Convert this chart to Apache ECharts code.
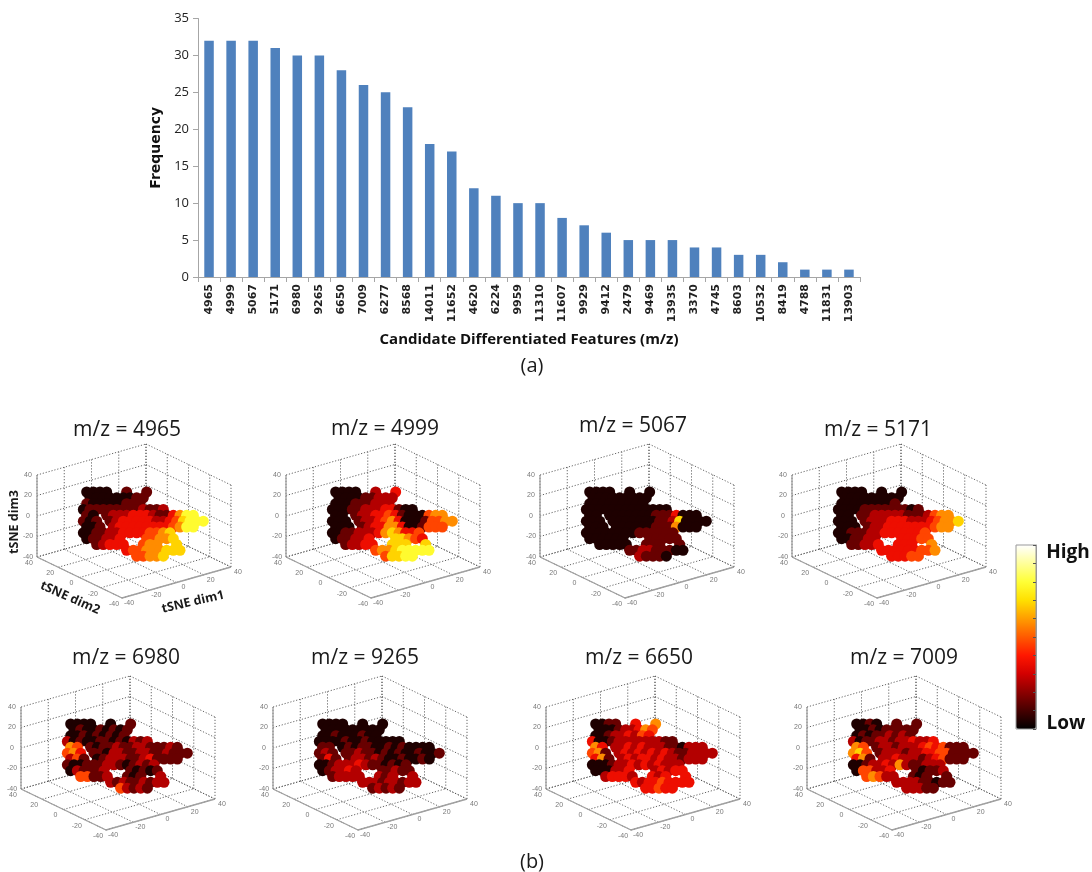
<!DOCTYPE html>
<html>
<head>
<meta charset="utf-8">
<style>html,body{margin:0;padding:0;background:#fff}#c{width:1092px;height:872px}</style>
<script src="https://cdn.jsdelivr.net/npm/echarts@6/dist/echarts.min.js"></script>
</head>
<body>
<div id="c"></div>
<script>
// ---- bar chart values
const features = ['4965','4999','5067','5171','6980','9265','6650','7009','6277','8568','14011','11652','4620','6224','9959','11310','11607','9929','9412','2479','9469','13935','3370','4745','8603','10532','8419','4788','11831','13903'];
const frequency = [32,32,32,31,30,30,28,26,25,23,18,17,12,11,10,10,8,7,6,5,5,5,4,4,3,3,2,1,1,1];

// ---- tSNE axis ticks
const tsneTicks = [-40,-20,0,20,40];

// ---- projected tSNE intensity (0-9), one string per image row, '.' = no sample
const blob4965 = [
".0000..1..1.........",
".000000011..........",
".100000111..........",
"0111111112112.......",
".10.12223332113577..",
"101.123333322346777.",
".001.2333333334577..",
"00112233334456......",
".011223...44556.....",
"..12333..455..6.....",
".......344555666....",
"........44556......."];
const blob4999 = [
".0000..2..3.........",
".000011222..........",
".000111222..........",
"0001122233100.......",
".00.12233431000455..",
"000.122345300014455.",
".000.1233553001444..",
"00112223565334......",
".011223...66543.....",
"..12233..666..6.....",
".......455677777....",
"........46677......."];
const blob5067 = [
".0000..0..0.........",
".000000000..........",
".000000000..........",
"0000000000000.......",
".00.00000001113000..",
"000.000000011260000.",
".000.0000001115000..",
"00000000111111......",
".000000...11111.....",
"..00000..111..1.....",
".......112211100....",
"........21110......."];
const blob5171 = [
".0000..0..0.........",
".000000000..........",
".000000001..........",
"0000111111101.......",
".00.11222221112455..",
"000.122233322234556.",
".000.1223333333455..",
"00111223333334......",
".001122...33344.....",
"..11223..333..5.....",
".......333333445....",
"........33344......."];
const blob6980 = [
".0000..0..1.........",
".010010101..........",
".001010101..........",
"2010011010212.......",
".54.10112112211121..",
"453.110221122112111.",
".241.0122211231111..",
"10011122101212......",
".021112...10101.....",
"..44112..101..2.....",
".......212112122....",
"........42121......."];
const blob9265 = [
".0000..0..0.........",
".000000000..........",
".001000100..........",
"0000100100000.......",
".11.01011001010000..",
"121.112110101001001.",
".131.1221210010010..",
"00122232110101......",
".012232...11211.....",
"..12222..212..2.....",
".......222122122....",
"........12121......."];
const blob6650 = [
".0011..3..5.........",
".000122354..........",
".001223243..........",
"3001222222211.......",
".53.22323222110222..",
"451.232323232112222.",
".351.2323323221222..",
"00012232323222......",
".000223...23233.....",
"..23332..323..3.....",
".......323343333....",
"........33433......."];
const blob7009 = [
".0010..1..1.........",
".001011111..........",
".010112121..........",
"2011221223223.......",
".54.12212223434111..",
"564.122212233441111.",
".351.2232221234111..",
"00122325211222......",
".044223...10112.....",
"..45422..101..1.....",
".......222211011....",
"........22211......."];

const panelNames = ['4965','4999','5067','5171','6980','9265','6650','7009'];
const panelBlobs = [blob4965,blob4999,blob5067,blob5171,blob6980,blob9265,blob6650,blob7009];

// ---- layout only
const panelLeft = [37,286,540,792,21,273,546,807];
const panelTop  = [475,475,475,475,707,707,707,707];
const titleCx   = [127,385,633,878,126,365,639,904];
const titleCy   = [430,429,426,430,658,658,658,658];
const hotStops = ['#000000','#460000','#8c0000','#d20000','#ff1700','#ff5a00','#ff9d00','#ffe000','#ffff36','#ffff9a','#ffffff'];

// axonometric projection of the MATLAB-style 3-D box, in panel pixels
function proj(d1,d2,d3){
  const a=(d1+40)/80,b=(d2+40)/80,c=(d3+40)/80;
  return [85+109*a-85*b, 152-31*a-41*b-82*c];
}
function seg(list,p,q){ list.push(p,q,[NaN,NaN]); }

const grids=[{left:198,top:18.5,width:662,height:258.5}];
const xAxes=[{gridIndex:0,type:'category',data:features,
  axisLine:{lineStyle:{color:'#a6a6a6'}},axisTick:{show:true,length:5,lineStyle:{color:'#a6a6a6'}},
  axisLabel:{rotate:90,interval:0,fontFamily:'DejaVu Sans',fontWeight:'bold',fontSize:11,color:'#222',margin:7},
  name:'Candidate Differentiated Features (m/z)',nameLocation:'middle',nameGap:55,
  nameTextStyle:{fontFamily:'Open Sans',fontWeight:'bold',fontSize:15,color:'#111'}}];
const yAxes=[{gridIndex:0,type:'value',min:0,max:35,interval:5,splitLine:{show:false},
  axisLine:{show:true,lineStyle:{color:'#a6a6a6'}},axisTick:{show:true,length:5,lineStyle:{color:'#a6a6a6'}},
  axisLabel:{fontFamily:'Open Sans',fontSize:13,color:'#222',margin:9},
  name:'Frequency',nameLocation:'middle',nameGap:27,
  nameTextStyle:{fontFamily:'DejaVu Sans',fontWeight:'bold',fontSize:14,color:'#111'}}];
const series=[{type:'bar',xAxisIndex:0,yAxisIndex:0,data:frequency,barWidth:9.5,itemStyle:{color:'#4f81bd'},silent:true}];
const blobSeries=[];
const graphics=[];

function txt(x,y,t,size,opt){
  graphics.push(Object.assign({type:'text',x:x,y:y,silent:true,z:50,
    style:Object.assign({text:t,fontSize:size,fontFamily:'Open Sans',fill:'#1a1a1a',align:'center',verticalAlign:'middle'},opt&&opt.style||{})},
    opt&&opt.el||{}));
}

panelNames.forEach((name,i)=>{
  const g=i+1;
  grids.push({left:panelLeft[i],top:panelTop[i]-29,width:194,height:153});
  xAxes.push({gridIndex:g,type:'value',min:0,max:194,show:false});
  yAxes.push({gridIndex:g,type:'value',min:0,max:153,inverse:true,show:false});
  const dotted=[],solid=[],labels=[];
  tsneTicks.forEach(t=>{
    seg(dotted,proj(t,-40,-40),proj(t,40,-40));      // floor
    seg(dotted,proj(-40,t,-40),proj(40,t,-40));      // floor
    seg(dotted,proj(t,40,-40),proj(t,40,40));        // back wall, dim2 = 40
    seg(dotted,proj(40,t,-40),proj(40,t,40));        // back wall, dim1 = 40
    seg(dotted,proj(-40,40,t),proj(40,40,t));
    seg(dotted,proj(40,40,t),proj(40,-40,t));
    let p=proj(-40,40,t); labels.push({value:[p[0]-9,p[1]],name:String(t)});
    p=proj(-40,t,-40);   labels.push({value:[p[0]-8,p[1]+6],name:String(t)});
    p=proj(t,-40,-40);   labels.push({value:[p[0]+7,p[1]+5],name:String(t)});
  });
  seg(solid,proj(-40,40,-40),proj(-40,40,40));
  seg(solid,proj(-40,40,-40),proj(-40,-40,-40));
  seg(solid,proj(-40,-40,-40),proj(40,-40,-40));
  series.push({type:'line',xAxisIndex:g,yAxisIndex:g,data:dotted,showSymbol:false,silent:true,z:1,clip:false,
    lineStyle:{color:'#555',width:0.9,type:[1.2,1.8]}});
  series.push({type:'line',xAxisIndex:g,yAxisIndex:g,data:solid,showSymbol:false,silent:true,z:1,clip:false,
    lineStyle:{color:'#a0a0a0',width:1.3}});
  series.push({type:'scatter',xAxisIndex:g,yAxisIndex:g,data:labels,symbolSize:1,silent:true,z:1,clip:false,
    itemStyle:{color:'rgba(0,0,0,0)'},
    labelLayout:{hideOverlap:false},
    label:{show:true,position:'inside',formatter:'{b}',fontSize:7,fontFamily:'Liberation Sans',color:'#555'}});
  const pts=[];
  panelBlobs[i].forEach((row,r)=>{
    for(let c=0;c<row.length;c++){
      if(row[c]==='.') continue;
      const zx=240+20*c+(r%2?10:0), zy=246+17.5*r;
      pts.push([zx/3-37, zy/3-36, +row[c]]);
    }
  });
  blobSeries.push(series.length);
  series.push({type:'scatter',xAxisIndex:g,yAxisIndex:g,data:pts,symbolSize:11,silent:true,z:3,itemStyle:{opacity:1}});
  txt(titleCx[i],titleCy[i],'m/z = '+name,21);
});

// colour bar frame with inner ticks (Low to High)
const cbIdx=grids.length;
grids.push({show:true,borderColor:'#999',borderWidth:1,backgroundColor:'transparent',z:6,left:1016,top:545,width:20,height:184});
xAxes.push({gridIndex:cbIdx,type:'value',min:0,max:1,show:false});
yAxes.push({gridIndex:cbIdx,type:'value',min:0,max:10,interval:1,position:'right',z:8,axisLabel:{show:false},splitLine:{show:false},
  axisLine:{show:true,onZero:false,lineStyle:{color:'#999',width:1}},axisTick:{show:true,inside:true,length:3,lineStyle:{color:'#555'}}});

txt(532,366,'(a)',20);
txt(532,862,'(b)',20);
txt(1068,553,'High',19,{style:{fontWeight:'bold',fill:'#111'}});
txt(1066,724,'Low',19,{style:{fontWeight:'bold',fill:'#111'}});
txt(14,522,'tSNE dim3',12.5,{el:{rotation:Math.PI/2},style:{fontWeight:'bold'}});
txt(70,598,'tSNE dim2',12.5,{el:{rotation:-24*Math.PI/180},style:{fontWeight:'bold'}});
txt(193,602,'tSNE dim1',12.5,{el:{rotation:13*Math.PI/180},style:{fontWeight:'bold'}});

const chart=echarts.init(document.getElementById('c'),null,{renderer:'canvas'});
chart.setOption({
  animation:false,backgroundColor:'#fff',
  grid:grids,xAxis:xAxes,yAxis:yAxes,series:series,graphic:graphics,
  tooltip:{show:false},
  visualMap:[{type:'continuous',min:-0.4,max:9,dimension:2,seriesIndex:blobSeries,
    left:1016,top:545,itemWidth:20,itemHeight:184,padding:0,calculable:false,realtime:false,hoverLink:false,
    text:null,inRange:{color:hotStops},z:1}]
});
</script>
</body>
</html>
